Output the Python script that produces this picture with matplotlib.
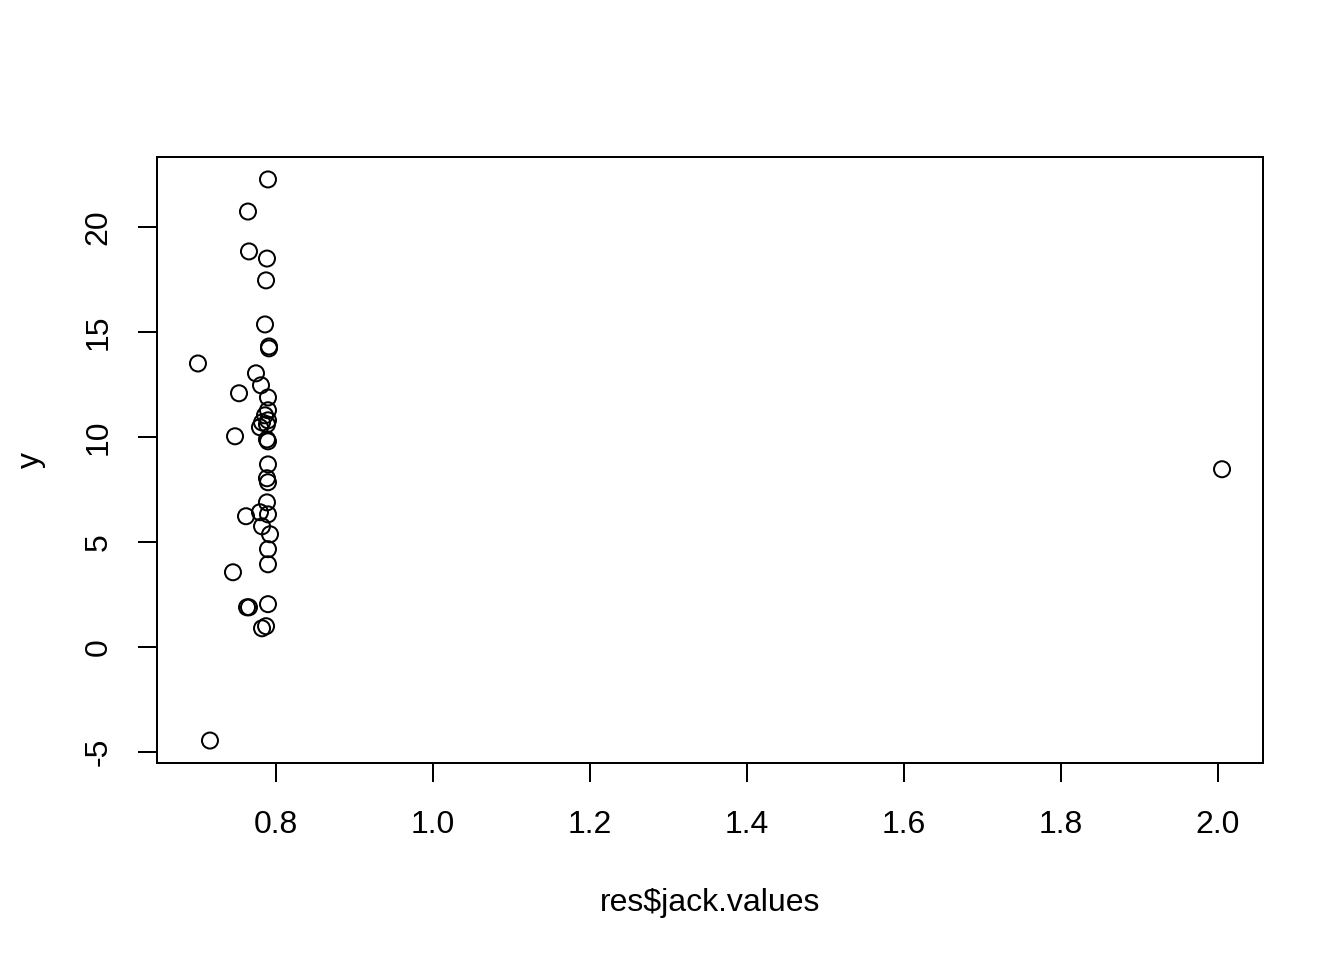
import numpy as np
import matplotlib.pyplot as plt

plt.rcParams['font.family'] = ['Liberation Sans', 'DejaVu Sans']

# jackknife values (x) and response (y)
jack_values = [0.7898, 0.7643, 0.7656, 0.7885, 0.7873, 0.7860, 0.7911, 0.7911,
               0.7006, 0.7745, 0.7809, 0.7529, 0.7898, 0.7898, 0.7860, 0.7898,
               0.7822, 0.7796, 0.7885, 0.7478, 0.7885, 0.7898, 0.7898, 0.7885,
               0.7898, 0.7885, 0.7618, 0.7796, 0.7898, 0.7822, 0.7924, 0.7898,
               0.7898, 0.7452, 0.7631, 0.7656, 0.7898, 0.7822, 0.7873, 0.7159,
               2.0051]
y = [22.29, 20.76, 18.86, 18.52, 17.48, 15.38, 14.33, 14.24,
     13.52, 13.05, 12.48, 12.10, 11.90, 11.29, 11.05, 10.81,
     10.71, 10.48, 10.62, 10.05, 9.90, 9.81, 8.71, 8.05,
     7.86, 6.90, 6.24, 6.43, 6.33, 5.76, 5.38, 4.67,
     3.95, 3.57, 1.90, 1.90, 2.05, 0.90, 1.00, -4.45,
     8.48]

fig = plt.figure(figsize=(7, 5), dpi=192)
ax = fig.add_axes([157/1344, 1 - 763/960, (1263 - 157)/1344, (763 - 157)/960])

ax.scatter(jack_values, y, s=36, facecolors='none', edgecolors='black', linewidths=0.75)

# R-style 4% padding
xr = max(jack_values) - min(jack_values)
yr = max(y) - min(y)
ax.set_xlim(min(jack_values) - 0.04 * xr, max(jack_values) + 0.04 * xr)
ax.set_ylim(min(y) - 0.04 * yr, max(y) + 0.04 * yr)

ax.set_xticks([0.8, 1.0, 1.2, 1.4, 1.6, 1.8, 2.0])
ax.set_xticklabels(['0.8', '1.0', '1.2', '1.4', '1.6', '1.8', '2.0'])
ax.set_yticks([-5, 0, 5, 10, 15, 20])
ax.set_yticklabels(['-5', '0', '5', '10', '15', '20'], rotation=90, va='center')

ax.tick_params(direction='out', length=7, width=0.75, labelsize=12)
ax.tick_params(axis='x', pad=10.6)
ax.tick_params(axis='y', pad=9.2)
for sp in ax.spines.values():
    sp.set_linewidth(0.75)

ax.set_xlabel(r'res\$jack.values', fontsize=12, labelpad=18)
ax.set_ylabel('y', fontsize=12, labelpad=14)

fig.savefig('out.png', dpi=192)
